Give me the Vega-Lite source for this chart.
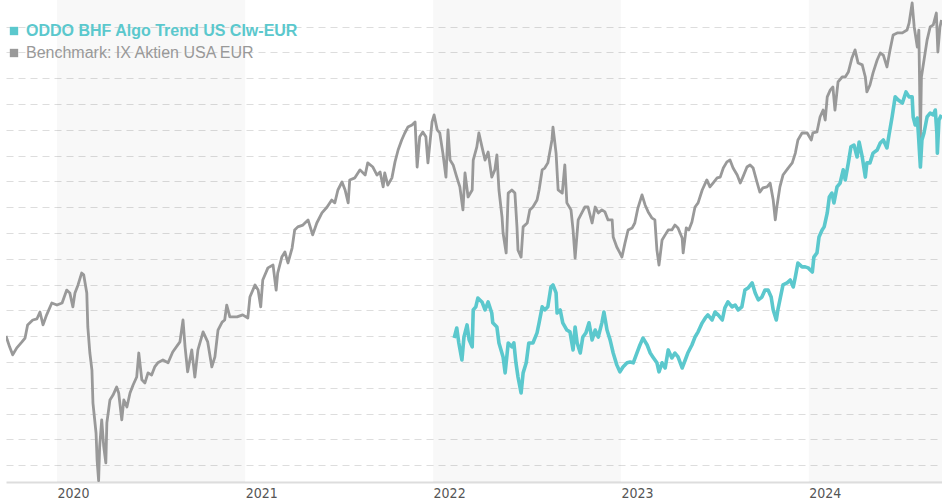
{
  "$schema": "https://vega.github.io/schema/vega-lite/v6.json",
  "width": 936,
  "height": 482,
  "autosize": {"type": "none"},
  "padding": {"left": 6, "top": 0, "right": 0, "bottom": 18},
  "background": "white",
  "config": {"view": {"stroke": null}},
  "datasets": {
    "bands": [
      {"start": "2020-01-01", "end": "2021-01-01"},
      {"start": "2022-01-01", "end": "2023-01-01"},
      {"start": "2024-01-01", "end": "2025-01-01"}
    ],
    "bench": [
      {"d":"2019-09-24","v":120.1},{"d":"2019-10-01","v":115.9},{"d":"2019-10-07","v":112.8},{"d":"2019-10-15","v":115.5},{"d":"2019-10-25","v":117.8},{"d":"2019-10-31","v":119.3},{"d":"2019-11-05","v":124.4},{"d":"2019-11-15","v":126.3},{"d":"2019-11-23","v":126.7},{"d":"2019-11-29","v":129.4},{"d":"2019-12-05","v":124.4},{"d":"2019-12-12","v":128.3},{"d":"2019-12-22","v":132.9},
      {"d":"2020-01-01","v":132.1},{"d":"2020-01-11","v":132.9},{"d":"2020-01-20","v":137.9},{"d":"2020-01-26","v":136.8},{"d":"2020-02-01","v":131.4},{"d":"2020-02-05","v":136.8},{"d":"2020-02-11","v":139.9},{"d":"2020-02-18","v":144.5},{"d":"2020-02-22","v":143.8},{"d":"2020-02-28","v":136.8},{"d":"2020-03-01","v":123.6},{"d":"2020-03-05","v":113.5},{"d":"2020-03-09","v":106.9},{"d":"2020-03-11","v":94.1},{"d":"2020-03-17","v":82.5},{"d":"2020-03-19","v":72.1},{"d":"2020-03-22","v":64.0},{"d":"2020-03-24","v":77.1},{"d":"2020-03-28","v":87.6},{"d":"2020-04-01","v":77.1},{"d":"2020-04-05","v":70.9},{"d":"2020-04-07","v":86.4},{"d":"2020-04-13","v":95.3},{"d":"2020-04-19","v":97.2},{"d":"2020-04-26","v":100.3},{"d":"2020-04-30","v":98.0},{"d":"2020-05-06","v":87.6},{"d":"2020-05-10","v":95.3},{"d":"2020-05-16","v":92.6},{"d":"2020-05-22","v":98.0},{"d":"2020-05-28","v":101.1},{"d":"2020-06-04","v":104.2},{"d":"2020-06-08","v":113.5},{"d":"2020-06-14","v":103.1},{"d":"2020-06-20","v":101.9},{"d":"2020-06-26","v":105.8},{"d":"2020-07-03","v":105.0},{"d":"2020-07-09","v":108.1},{"d":"2020-07-15","v":109.7},{"d":"2020-07-25","v":110.8},{"d":"2020-08-04","v":109.7},{"d":"2020-08-13","v":113.9},{"d":"2020-08-27","v":117.8},{"d":"2020-09-02","v":126.3},{"d":"2020-09-06","v":115.9},{"d":"2020-09-11","v":106.2},{"d":"2020-09-19","v":114.7},{"d":"2020-09-25","v":104.2},{"d":"2020-10-01","v":114.7},{"d":"2020-10-11","v":121.7},{"d":"2020-10-20","v":117.8},{"d":"2020-10-28","v":108.1},{"d":"2020-11-03","v":112.0},{"d":"2020-11-09","v":122.4},{"d":"2020-11-17","v":125.5},{"d":"2020-11-22","v":126.3},{"d":"2020-11-26","v":132.1},{"d":"2020-12-02","v":127.5},{"d":"2020-12-16","v":127.5},{"d":"2020-12-27","v":128.3},
      {"d":"2021-01-06","v":127.1},{"d":"2021-01-10","v":135.2},{"d":"2021-01-20","v":139.9},{"d":"2021-01-26","v":137.9},{"d":"2021-01-31","v":131.4},{"d":"2021-02-04","v":141.8},{"d":"2021-02-14","v":146.5},{"d":"2021-02-24","v":147.6},{"d":"2021-03-02","v":137.9},{"d":"2021-03-05","v":144.5},{"d":"2021-03-13","v":150.7},{"d":"2021-03-19","v":152.7},{"d":"2021-03-25","v":148.4},{"d":"2021-04-02","v":154.2},{"d":"2021-04-07","v":161.2},{"d":"2021-04-13","v":162.4},{"d":"2021-04-23","v":163.1},{"d":"2021-05-03","v":165.1},{"d":"2021-05-12","v":159.3},{"d":"2021-05-20","v":163.9},{"d":"2021-05-30","v":167.8},{"d":"2021-06-09","v":170.1},{"d":"2021-06-18","v":172.8},{"d":"2021-06-24","v":171.7},{"d":"2021-06-30","v":176.7},{"d":"2021-07-08","v":179.8},{"d":"2021-07-14","v":176.7},{"d":"2021-07-20","v":171.7},{"d":"2021-07-23","v":180.6},{"d":"2021-08-02","v":181.4},{"d":"2021-08-12","v":184.5},{"d":"2021-08-22","v":182.5},{"d":"2021-08-27","v":187.2},{"d":"2021-09-06","v":185.6},{"d":"2021-09-14","v":182.5},{"d":"2021-09-20","v":183.7},{"d":"2021-09-26","v":177.9},{"d":"2021-09-29","v":183.3},{"d":"2021-10-05","v":178.6},{"d":"2021-10-13","v":181.4},{"d":"2021-10-19","v":187.6},{"d":"2021-10-25","v":192.2},{"d":"2021-11-01","v":196.1},{"d":"2021-11-07","v":198.8},{"d":"2021-11-13","v":201.1},{"d":"2021-11-21","v":201.9},{"d":"2021-11-27","v":203.1},{"d":"2021-12-01","v":185.6},{"d":"2021-12-06","v":197.3},{"d":"2021-12-12","v":199.2},{"d":"2021-12-18","v":197.3},{"d":"2021-12-22","v":187.2},{"d":"2021-12-30","v":203.1},
      {"d":"2022-01-03","v":205.8},{"d":"2022-01-09","v":200.0},{"d":"2022-01-14","v":198.8},{"d":"2022-01-20","v":191.0},{"d":"2022-01-26","v":181.7},{"d":"2022-01-30","v":200.0},{"d":"2022-02-03","v":188.3},{"d":"2022-02-09","v":186.4},{"d":"2022-02-16","v":181.7},{"d":"2022-02-22","v":177.9},{"d":"2022-02-28","v":169.0},{"d":"2022-03-04","v":183.3},{"d":"2022-03-10","v":174.0},{"d":"2022-03-18","v":176.7},{"d":"2022-03-20","v":188.3},{"d":"2022-03-27","v":193.4},{"d":"2022-03-31","v":198.8},{"d":"2022-04-06","v":193.4},{"d":"2022-04-12","v":188.3},{"d":"2022-04-18","v":191.4},{"d":"2022-04-25","v":181.7},{"d":"2022-05-01","v":184.5},{"d":"2022-05-05","v":190.3},{"d":"2022-05-09","v":176.7},{"d":"2022-05-15","v":166.2},{"d":"2022-05-17","v":160.0},{"d":"2022-05-23","v":152.3},{"d":"2022-05-27","v":175.5},{"d":"2022-06-03","v":176.7},{"d":"2022-06-09","v":175.5},{"d":"2022-06-13","v":162.4},{"d":"2022-06-15","v":153.4},{"d":"2022-06-21","v":150.7},{"d":"2022-06-25","v":162.4},{"d":"2022-07-03","v":163.9},{"d":"2022-07-08","v":169.0},{"d":"2022-07-14","v":170.1},{"d":"2022-07-22","v":172.8},{"d":"2022-07-26","v":176.7},{"d":"2022-08-01","v":184.5},{"d":"2022-08-06","v":185.2},{"d":"2022-08-12","v":187.2},{"d":"2022-08-20","v":196.1},{"d":"2022-08-22","v":201.1},{"d":"2022-08-28","v":191.0},{"d":"2022-09-01","v":176.7},{"d":"2022-09-09","v":175.5},{"d":"2022-09-14","v":186.4},{"d":"2022-09-18","v":171.7},{"d":"2022-09-26","v":169.0},{"d":"2022-09-30","v":161.2},{"d":"2022-10-04","v":150.3},{"d":"2022-10-10","v":165.1},{"d":"2022-10-17","v":167.8},{"d":"2022-10-23","v":170.1},{"d":"2022-10-29","v":170.1},{"d":"2022-11-06","v":163.9},{"d":"2022-11-12","v":170.1},{"d":"2022-11-18","v":167.8},{"d":"2022-11-25","v":169.0},{"d":"2022-12-01","v":168.2},{"d":"2022-12-07","v":165.1},{"d":"2022-12-15","v":165.1},{"d":"2022-12-17","v":158.5},{"d":"2022-12-24","v":154.6},{"d":"2022-12-30","v":152.3},
      {"d":"2023-01-03","v":150.7},{"d":"2023-01-09","v":156.2},{"d":"2023-01-15","v":161.2},{"d":"2023-01-23","v":162.0},{"d":"2023-01-28","v":163.9},{"d":"2023-02-03","v":169.7},{"d":"2023-02-11","v":174.8},{"d":"2023-02-17","v":170.9},{"d":"2023-02-23","v":168.2},{"d":"2023-03-02","v":165.9},{"d":"2023-03-08","v":165.1},{"d":"2023-03-12","v":153.4},{"d":"2023-03-16","v":147.6},{"d":"2023-03-22","v":157.3},{"d":"2023-03-28","v":159.3},{"d":"2023-04-03","v":161.2},{"d":"2023-04-10","v":161.2},{"d":"2023-04-16","v":163.1},{"d":"2023-04-22","v":162.0},{"d":"2023-04-30","v":158.1},{"d":"2023-05-02","v":152.3},{"d":"2023-05-08","v":162.0},{"d":"2023-05-13","v":161.2},{"d":"2023-05-19","v":164.3},{"d":"2023-05-25","v":170.1},{"d":"2023-05-31","v":171.7},{"d":"2023-06-08","v":176.7},{"d":"2023-06-17","v":180.6},{"d":"2023-06-23","v":177.9},{"d":"2023-06-29","v":179.4},{"d":"2023-07-07","v":181.4},{"d":"2023-07-13","v":181.7},{"d":"2023-07-19","v":185.2},{"d":"2023-07-26","v":187.6},{"d":"2023-08-01","v":188.3},{"d":"2023-08-07","v":185.2},{"d":"2023-08-15","v":182.5},{"d":"2023-08-21","v":179.4},{"d":"2023-08-26","v":181.7},{"d":"2023-09-03","v":185.6},{"d":"2023-09-09","v":186.4},{"d":"2023-09-15","v":185.2},{"d":"2023-09-23","v":179.4},{"d":"2023-09-28","v":175.9},{"d":"2023-10-04","v":177.5},{"d":"2023-10-12","v":177.9},{"d":"2023-10-18","v":179.4},{"d":"2023-10-24","v":172.8},{"d":"2023-10-28","v":165.1},{"d":"2023-10-31","v":170.1},{"d":"2023-11-06","v":177.9},{"d":"2023-11-12","v":182.5},{"d":"2023-11-22","v":185.2},{"d":"2023-11-30","v":187.2},{"d":"2023-12-06","v":191.0},{"d":"2023-12-11","v":196.1},{"d":"2023-12-19","v":198.8},{"d":"2023-12-29","v":198.8},
      {"d":"2024-01-06","v":196.1},{"d":"2024-01-09","v":198.8},{"d":"2024-01-17","v":199.2},{"d":"2024-01-23","v":205.0},{"d":"2024-01-29","v":207.7},{"d":"2024-02-02","v":203.8},{"d":"2024-02-06","v":212.8},{"d":"2024-02-12","v":215.5},{"d":"2024-02-17","v":216.6},{"d":"2024-02-21","v":207.7},{"d":"2024-02-27","v":218.6},{"d":"2024-03-06","v":220.5},{"d":"2024-03-12","v":220.5},{"d":"2024-03-18","v":222.4},{"d":"2024-03-25","v":227.9},{"d":"2024-03-31","v":231.0},{"d":"2024-04-06","v":225.9},{"d":"2024-04-14","v":225.2},{"d":"2024-04-20","v":220.5},{"d":"2024-04-23","v":214.7},{"d":"2024-04-29","v":217.4},{"d":"2024-05-05","v":222.1},{"d":"2024-05-13","v":227.1},{"d":"2024-05-19","v":229.8},{"d":"2024-05-25","v":229.0},{"d":"2024-06-01","v":224.4},{"d":"2024-06-07","v":231.0},{"d":"2024-06-13","v":236.8},{"d":"2024-06-21","v":237.6},{"d":"2024-07-01","v":237.6},{"d":"2024-07-10","v":238.7},{"d":"2024-07-14","v":241.4},{"d":"2024-07-20","v":249.2},{"d":"2024-07-24","v":239.9},{"d":"2024-07-30","v":232.1},{"d":"2024-08-02","v":238.7},{"d":"2024-08-05","v":196.1},{"d":"2024-08-07","v":220.5},{"d":"2024-08-18","v":234.8},{"d":"2024-08-24","v":239.9},{"d":"2024-08-30","v":240.7},{"d":"2024-09-05","v":245.3},{"d":"2024-09-08","v":230.2},{"d":"2024-09-12","v":239.9},{"d":"2024-09-15","v":242.6}
    ],
    "fund": [
      {"d":"2022-02-11","v":119.3},{"d":"2022-02-16","v":123.2},{"d":"2022-02-20","v":117.4},{"d":"2022-02-26","v":110.8},{"d":"2022-03-02","v":119.7},{"d":"2022-03-08","v":124.4},{"d":"2022-03-12","v":118.6},{"d":"2022-03-18","v":115.9},{"d":"2022-03-20","v":130.2},{"d":"2022-03-25","v":131.4},{"d":"2022-03-29","v":134.8},{"d":"2022-04-06","v":133.3},{"d":"2022-04-12","v":130.2},{"d":"2022-04-18","v":133.3},{"d":"2022-04-25","v":129.0},{"d":"2022-04-27","v":125.2},{"d":"2022-05-05","v":123.6},{"d":"2022-05-09","v":117.4},{"d":"2022-05-17","v":112.0},{"d":"2022-05-21","v":105.8},{"d":"2022-05-27","v":117.4},{"d":"2022-06-03","v":115.9},{"d":"2022-06-07","v":117.4},{"d":"2022-06-11","v":109.7},{"d":"2022-06-15","v":104.2},{"d":"2022-06-21","v":98.0},{"d":"2022-06-25","v":105.8},{"d":"2022-07-01","v":109.7},{"d":"2022-07-06","v":117.4},{"d":"2022-07-14","v":117.4},{"d":"2022-07-22","v":121.3},{"d":"2022-07-26","v":125.2},{"d":"2022-08-01","v":131.4},{"d":"2022-08-06","v":130.2},{"d":"2022-08-12","v":131.4},{"d":"2022-08-18","v":139.1},{"d":"2022-08-22","v":139.9},{"d":"2022-08-28","v":136.8},{"d":"2022-08-30","v":129.0},{"d":"2022-09-05","v":130.2},{"d":"2022-09-10","v":125.2},{"d":"2022-09-18","v":122.4},{"d":"2022-09-24","v":121.7},{"d":"2022-09-30","v":114.7},{"d":"2022-10-04","v":123.6},{"d":"2022-10-08","v":117.4},{"d":"2022-10-14","v":113.5},{"d":"2022-10-19","v":119.7},{"d":"2022-10-25","v":121.3},{"d":"2022-10-31","v":125.2},{"d":"2022-11-06","v":118.6},{"d":"2022-11-12","v":122.4},{"d":"2022-11-18","v":119.7},{"d":"2022-11-25","v":125.2},{"d":"2022-11-29","v":129.4},{"d":"2022-12-05","v":122.4},{"d":"2022-12-11","v":118.6},{"d":"2022-12-17","v":113.5},{"d":"2022-12-24","v":108.9},{"d":"2022-12-30","v":106.2},
      {"d":"2023-01-05","v":108.1},{"d":"2023-01-13","v":109.7},{"d":"2023-01-19","v":110.0},{"d":"2023-01-25","v":109.7},{"d":"2023-02-01","v":113.5},{"d":"2023-02-07","v":116.6},{"d":"2023-02-13","v":119.3},{"d":"2023-02-21","v":116.6},{"d":"2023-02-27","v":113.5},{"d":"2023-03-04","v":112.0},{"d":"2023-03-12","v":109.7},{"d":"2023-03-16","v":106.2},{"d":"2023-03-22","v":109.7},{"d":"2023-03-28","v":107.7},{"d":"2023-04-03","v":114.7},{"d":"2023-04-10","v":111.6},{"d":"2023-04-16","v":113.5},{"d":"2023-04-22","v":112.0},{"d":"2023-04-30","v":107.7},{"d":"2023-05-06","v":110.8},{"d":"2023-05-11","v":113.5},{"d":"2023-05-19","v":116.6},{"d":"2023-05-25","v":119.7},{"d":"2023-05-31","v":121.7},{"d":"2023-06-08","v":125.2},{"d":"2023-06-14","v":127.1},{"d":"2023-06-19","v":128.3},{"d":"2023-06-27","v":126.3},{"d":"2023-07-03","v":129.4},{"d":"2023-07-09","v":128.3},{"d":"2023-07-17","v":126.3},{"d":"2023-07-22","v":131.0},{"d":"2023-07-28","v":133.3},{"d":"2023-08-05","v":131.4},{"d":"2023-08-11","v":132.1},{"d":"2023-08-17","v":130.2},{"d":"2023-08-24","v":131.4},{"d":"2023-08-30","v":137.9},{"d":"2023-09-05","v":138.7},{"d":"2023-09-13","v":140.7},{"d":"2023-09-19","v":136.8},{"d":"2023-09-25","v":134.1},{"d":"2023-10-02","v":135.2},{"d":"2023-10-08","v":137.9},{"d":"2023-10-14","v":137.9},{"d":"2023-10-20","v":135.2},{"d":"2023-10-24","v":130.2},{"d":"2023-10-30","v":126.3},{"d":"2023-11-02","v":130.2},{"d":"2023-11-06","v":134.1},{"d":"2023-11-12","v":139.9},{"d":"2023-11-20","v":140.7},{"d":"2023-11-26","v":141.8},{"d":"2023-12-02","v":139.1},{"d":"2023-12-06","v":143.0},{"d":"2023-12-11","v":148.4},{"d":"2023-12-19","v":146.9},{"d":"2023-12-25","v":146.9},{"d":"2023-12-31","v":146.5},
      {"d":"2024-01-08","v":144.9},{"d":"2024-01-11","v":150.7},{"d":"2024-01-17","v":152.3},{"d":"2024-01-21","v":158.5},{"d":"2024-01-27","v":161.2},{"d":"2024-01-31","v":162.4},{"d":"2024-02-06","v":167.8},{"d":"2024-02-10","v":174.0},{"d":"2024-02-15","v":175.5},{"d":"2024-02-19","v":171.7},{"d":"2024-02-25","v":177.9},{"d":"2024-03-02","v":179.4},{"d":"2024-03-08","v":184.5},{"d":"2024-03-12","v":180.6},{"d":"2024-03-18","v":187.2},{"d":"2024-03-23","v":193.4},{"d":"2024-03-29","v":194.1},{"d":"2024-04-04","v":189.5},{"d":"2024-04-08","v":195.3},{"d":"2024-04-14","v":189.5},{"d":"2024-04-20","v":181.7},{"d":"2024-04-23","v":187.2},{"d":"2024-04-29","v":187.2},{"d":"2024-05-05","v":191.0},{"d":"2024-05-13","v":192.2},{"d":"2024-05-19","v":194.9},{"d":"2024-05-25","v":196.1},{"d":"2024-06-01","v":193.0},{"d":"2024-06-05","v":198.0},{"d":"2024-06-11","v":205.0},{"d":"2024-06-17","v":212.8},{"d":"2024-06-23","v":211.6},{"d":"2024-07-01","v":210.4},{"d":"2024-07-08","v":214.7},{"d":"2024-07-14","v":212.8},{"d":"2024-07-20","v":212.8},{"d":"2024-07-22","v":205.0},{"d":"2024-07-26","v":201.9},{"d":"2024-07-30","v":204.6},{"d":"2024-08-01","v":198.8},{"d":"2024-08-05","v":185.6},{"d":"2024-08-08","v":196.1},{"d":"2024-08-12","v":198.8},{"d":"2024-08-18","v":205.0},{"d":"2024-08-24","v":206.5},{"d":"2024-08-30","v":205.8},{"d":"2024-09-03","v":207.7},{"d":"2024-09-06","v":198.8},{"d":"2024-09-07","v":191.0},{"d":"2024-09-10","v":203.8},{"d":"2024-09-15","v":205.8}
    ]
  },
  "layer": [
    {
      "data": {"name": "bands"},
      "mark": {"type": "rect", "color": "#000000", "opacity": 0.027, "clip": true},
      "encoding": {
        "x": {
          "field": "start", "type": "temporal",
          "scale": {"domain": ["2019-09-24", "2024-09-16"]},
          "axis": {
            "title": null, "format": "%Y", "tickCount": {"interval": "year", "step": 1},
            "labelAlign": "left", "labelPadding": 4, "labelFlush": false, "ticks": false, "grid": false,
            "domainColor": "#dddddd", "domainWidth": 2,
            "labelFont": "Liberation Sans Narrow, DejaVu Sans Condensed, sans-serif", "labelFontSize": 14, "labelColor": "#555555"
          }
        },
        "x2": {"field": "end"}
      }
    },
    {
      "data": {"name": "bench"},
      "mark": {"type": "line", "strokeWidth": 2.8, "clip": true, "strokeJoin": "round"},
      "encoding": {
        "x": {"field": "d", "type": "temporal"},
        "y": {
          "field": "v", "type": "quantitative",
          "scale": {"domain": [63.5, 250.35], "nice": false, "zero": false},
          "axis": {
            "title": null, "labels": false, "ticks": false, "domain": false, "grid": true,
            "values": [70, 80, 90, 100, 110, 120, 130, 140, 150, 160, 170, 180, 190, 200, 210, 220, 230, 240],
            "gridDash": [7, 5], "gridColor": "#dddddd", "gridWidth": 1
          }
        },
        "color": {
          "datum": "Benchmark: IX Aktien USA EUR",
          "type": "nominal",
          "scale": {
            "domain": ["ODDO BHF Algo Trend US CIw-EUR", "Benchmark: IX Aktien USA EUR"],
            "range": ["#5bc8cd", "#999999"]
          },
          "legend": {
            "title": null, "orient": "none", "legendX": 0, "legendY": 23, "padding": 0,
            "symbolType": "square", "symbolSize": 70, "symbolStrokeWidth": 0, "rowPadding": 6,
            "labelFont": "Liberation Sans, Arial, sans-serif", "labelFontSize": 16, "labelOffset": 4, "labelLimit": 400,
            "encode": {
              "symbols": {"update": {"fill": {"signal": "scale('color', datum.value)"}, "strokeWidth": {"value": 0}}},
              "labels": {"update": {
                "fill": {"signal": "datum.label === 'ODDO BHF Algo Trend US CIw-EUR' ? '#5bc8cd' : '#999999'"},
                "fontWeight": {"signal": "datum.label === 'ODDO BHF Algo Trend US CIw-EUR' ? 'bold' : 'normal'"}
              }}
            }
          }
        }
      }
    },
    {
      "data": {"name": "fund"},
      "mark": {"type": "line", "strokeWidth": 3.6, "clip": true, "strokeJoin": "round"},
      "encoding": {
        "x": {"field": "d", "type": "temporal"},
        "y": {
          "field": "v", "type": "quantitative",
          "axis": {
            "title": null, "labels": false, "ticks": false, "domain": false, "grid": true,
            "values": [70, 80, 90, 100, 110, 120, 130, 140, 150, 160, 170, 180, 190, 200, 210, 220, 230, 240],
            "gridDash": [7, 5], "gridColor": "#dddddd", "gridWidth": 1
          }
        },
        "color": {"datum": "ODDO BHF Algo Trend US CIw-EUR", "type": "nominal"}
      }
    }
  ]
}
